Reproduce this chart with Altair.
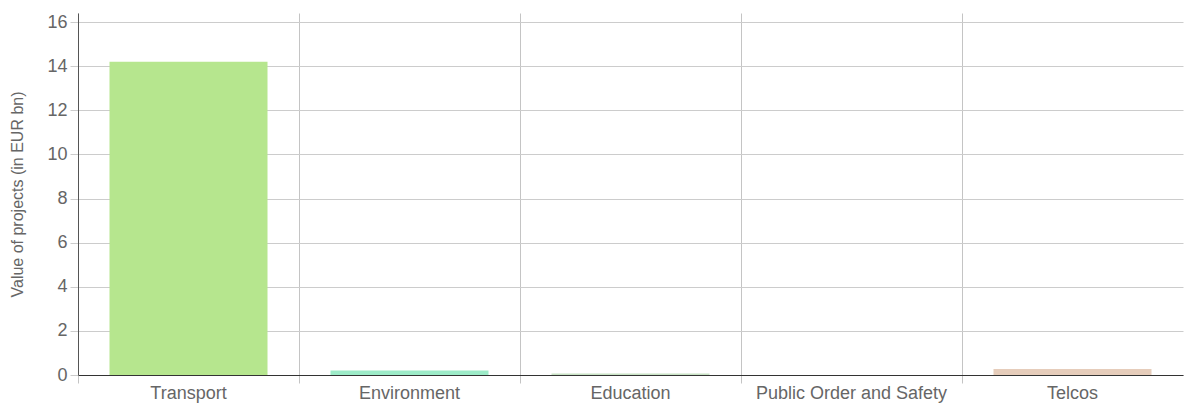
import altair as alt
import pandas as pd

categories = ["Transport", "Environment", "Education", "Public Order and Safety", "Telcos"]
values = [14.2, 0.2, 0.07, 0.0, 0.27]
colors = ["#b6e68e", "#9debc8", "#c8e2c4", "#d9d9d9", "#e6cdbb"]

df = pd.DataFrame({"category": categories, "value": values, "color": colors})

FONT = "Liberation Sans"

chart = alt.Chart(df).mark_bar(width=alt.RelativeBandSize(0.715)).encode(
    x=alt.X(
        "category:N",
        sort=categories,
        scale=alt.Scale(domain=categories, range=[0, 1105], paddingInner=0, paddingOuter=0),
        axis=alt.Axis(
            title=None,
            bandPosition=0,
            labelOffset=0,
            labelAngle=0,
            labelFont=FONT,
            labelFontSize=18,
            labelColor="#666666",
            labelPadding=1,
            labelLimit=400,
            grid=True,
            gridColor="#c4c4c4",
            gridWidth=1,
            ticks=True,
            tickSize=8,
            tickColor="#c4c4c4",
            domain=True,
            domainColor="#333333",
            domainWidth=1,
        ),
    ),
    y=alt.Y(
        "value:Q",
        scale=alt.Scale(domain=[0, 16.41], nice=False),
        axis=alt.Axis(
            title="Value of projects (in EUR bn)",
            values=[0, 2, 4, 6, 8, 10, 12, 14, 16],
            labelFont=FONT,
            labelFontSize=18,
            labelColor="#666666",
            labelPadding=3,
            titleFont=FONT,
            titleFontSize=16,
            titleFontWeight="normal",
            titleColor="#666666",
            titlePadding=21,
            grid=True,
            gridColor="#cccccc",
            tickSize=8,
            tickColor="#cccccc",
            domainColor="#555555",
        ),
    ),
    color=alt.Color("color:N", scale=None, legend=None),
).properties(
    width=1114,
    height=362,
    autosize="none",
    padding={"left": 70, "top": 5, "right": 0, "bottom": 28},
).configure_view(stroke=None)

chart.save("out.html", embed_options={"renderer": "svg", "actions": False})
